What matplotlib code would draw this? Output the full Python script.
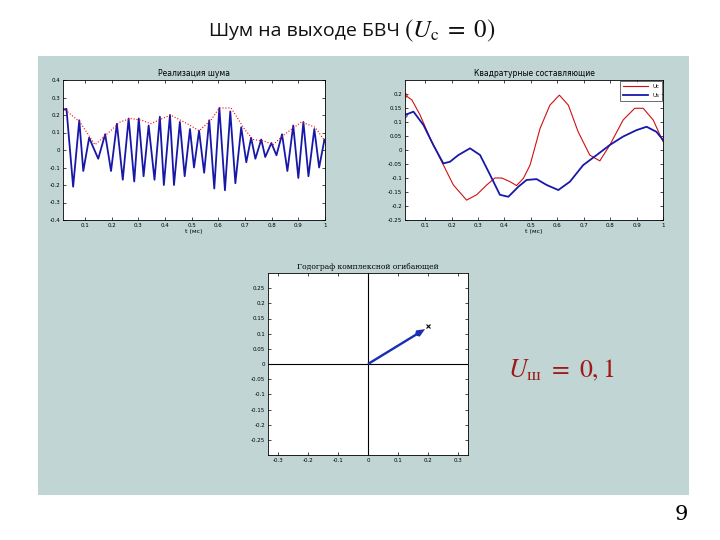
import matplotlib
matplotlib.use("Agg")
import matplotlib.pyplot as plt
from matplotlib.patches import Rectangle

plt.rcParams['mathtext.fontset'] = 'stix'

# ---- data ----
# blue noise realisation (peaks and troughs)
noise_t = [0.018, 0.031, 0.056, 0.079, 0.094, 0.116, 0.150, 0.176, 0.198, 0.220,
           0.242, 0.264, 0.285, 0.302, 0.320, 0.339, 0.361, 0.381, 0.396, 0.419,
           0.434, 0.456, 0.474, 0.494, 0.509, 0.528, 0.547, 0.566, 0.585, 0.604,
           0.625, 0.645, 0.664, 0.686, 0.705, 0.723, 0.739, 0.761, 0.776, 0.799,
           0.818, 0.839, 0.859, 0.881, 0.900, 0.919, 0.938, 0.960, 0.978, 0.998, 1.0]
noise_v = [0.23, 0.235, -0.21, 0.17, -0.12, 0.07, -0.05, 0.09, -0.12, 0.15,
           -0.17, 0.18, -0.18, 0.18, -0.15, 0.14, -0.17, 0.19, -0.20, 0.20,
           -0.20, 0.16, -0.15, 0.12, -0.10, 0.11, -0.13, 0.17, -0.22, 0.24,
           -0.23, 0.22, -0.19, 0.13, -0.07, 0.07, -0.05, 0.06, -0.04, 0.04,
           -0.03, 0.09, -0.12, 0.14, -0.16, 0.16, -0.15, 0.12, -0.10, 0.06, 0.05]

# red envelope
env_t = [0.018, 0.081, 0.138, 0.182, 0.232, 0.270, 0.314, 0.346, 0.421, 0.484, 0.528,
         0.572, 0.604, 0.648, 0.698, 0.730, 0.774, 0.805, 0.849, 0.912, 0.963, 1.0]
env_v = [0.24, 0.16, 0.03, 0.09, 0.16, 0.18, 0.17, 0.15, 0.20, 0.15, 0.11,
         0.17, 0.24, 0.24, 0.12, 0.06, 0.05, 0.03, 0.09, 0.16, 0.13, 0.05]

# quadrature components
uc_t = [0.024, 0.050, 0.081, 0.119, 0.163, 0.207, 0.257, 0.295, 0.333, 0.364, 0.390,
        0.421, 0.446, 0.472, 0.497, 0.535, 0.572, 0.608, 0.642, 0.679, 0.723, 0.761,
        0.799, 0.849, 0.893, 0.925, 0.963, 1.0]
uc_v = [0.196, 0.179, 0.125, 0.042, -0.042, -0.125, -0.179, -0.160, -0.125, -0.100, -0.100,
        -0.113, -0.127, -0.101, -0.054, 0.077, 0.160, 0.196, 0.160, 0.065, -0.018, -0.039,
        0.018, 0.107, 0.149, 0.149, 0.107, 0.030]
us_t = [0.024, 0.056, 0.094, 0.131, 0.169, 0.194, 0.226, 0.270, 0.308, 0.346, 0.383,
        0.415, 0.453, 0.484, 0.522, 0.560, 0.604, 0.648, 0.698, 0.749, 0.799, 0.849,
        0.900, 0.938, 0.975, 1.0]
us_v = [0.125, 0.137, 0.089, 0.018, -0.048, -0.042, -0.018, 0.006, -0.018, -0.089, -0.160,
        -0.167, -0.131, -0.107, -0.104, -0.125, -0.143, -0.113, -0.054, -0.018, 0.018, 0.048,
        0.071, 0.083, 0.065, 0.036]

# hodograph vector
hod_re = [0.19]
hod_im = [0.115]
hod_tip_re = [0.2]
hod_tip_im = [0.125]

t_ticks = [0.1, 0.2, 0.3, 0.4, 0.5, 0.6, 0.7, 0.8, 0.9, 1.0]
left_yticks = [-0.4, -0.3, -0.2, -0.1, 0, 0.1, 0.2, 0.3, 0.4]
right_yticks = [-0.25, -0.2, -0.15, -0.1, -0.05, 0, 0.05, 0.1, 0.15, 0.2]
hod_xticks = [-0.3, -0.2, -0.1, 0, 0.1, 0.2, 0.3]
hod_yticks = [-0.25, -0.2, -0.15, -0.1, -0.05, 0, 0.05, 0.1, 0.15, 0.2, 0.25]

W, H = 720, 540
fig = plt.figure(figsize=(7.2, 5.4), dpi=100)
fig.patch.set_facecolor('white')


def box(x0, y0, x1, y1):
    # pixel box (top-left origin) -> figure coords
    return [x0 / W, 1 - y1 / H, (x1 - x0) / W, (y1 - y0) / H]


# grey-blue panel behind the matlab figure
fig.patches.append(Rectangle((38 / W, 1 - 495 / H), 651 / W, 439 / H,
                             transform=fig.transFigure, facecolor='#c0d5d4',
                             edgecolor='none', zorder=-10))


def style(ax):
    ax.set_facecolor('white')
    ax.set_zorder(2)
    ax.tick_params(direction='in', length=2, width=0.5, labelsize=4,
                   top=True, right=True, pad=2, colors='black')
    for s in ax.spines.values():
        s.set_linewidth(0.6)


# noise realisation
ax1 = fig.add_axes(box(63, 80, 325, 220))
style(ax1)
ax1.plot(noise_t, noise_v, color='#1818a8', lw=1.3)
ax1.plot(env_t, env_v, color='red', lw=0.8, ls=':')
ax1.set_xlim(0.018, 1.0)
ax1.set_ylim(-0.4, 0.4)
ax1.set_xticks(t_ticks)
ax1.set_yticks(left_yticks)
ax1.set_xticklabels([f'{v:g}' for v in t_ticks])
ax1.set_yticklabels([f'{v:g}' for v in left_yticks])
ax1.set_title('Реализация шума', fontsize=5.5, pad=3)
ax1.set_xlabel('t (мс)', fontsize=4.5, labelpad=1)

# quadrature components
ax2 = fig.add_axes(box(405, 80, 663, 220))
style(ax2)
ax2.plot(uc_t, uc_v, color='#d01010', lw=0.8, label='Uc')
ax2.plot(us_t, us_v, color='#1818a8', lw=1.3, label='Us')
ax2.plot(uc_t[:1], uc_v[:1], 'o', mfc='none', mec='#d01010', ms=2.5, mew=0.6)
ax2.plot(us_t[:1], us_v[:1], 'o', mfc='none', mec='#1818a8', ms=2.5, mew=0.6)
ax2.set_xlim(0.024, 1.0)
ax2.set_ylim(-0.25, 0.25)
ax2.set_xticks(t_ticks)
ax2.set_yticks(right_yticks)
ax2.set_xticklabels([f'{v:g}' for v in t_ticks])
ax2.set_yticklabels([f'{v:g}' for v in right_yticks])
ax2.set_title('Квадратурные составляющие', fontsize=5.5, pad=3)
ax2.set_xlabel('t (мс)', fontsize=4.5, labelpad=1)
leg = ax2.legend(loc='upper right', fontsize=4, frameon=True, fancybox=False,
                 handlelength=4.5, borderpad=0.5, labelspacing=0.8,
                 borderaxespad=0.2)
leg.get_frame().set_edgecolor('black')
leg.get_frame().set_linewidth(0.5)

# hodograph
ax3 = fig.add_axes(box(268, 273, 468, 455))
style(ax3)
ax3.axhline(0, color='black', lw=0.8)
ax3.axvline(0, color='black', lw=0.8)
ax3.quiver([0], [0], hod_re, hod_im, angles='xy', scale_units='xy', scale=1,
           color='#1a2fb0', width=0.012, headwidth=3, headlength=3.5, zorder=3)
ax3.plot(hod_tip_re, hod_tip_im, marker='x', color='black', ms=3, mew=0.8)
ax3.set_xlim(-0.333, 0.333)
ax3.set_ylim(-0.3, 0.3)
ax3.set_xticks(hod_xticks)
ax3.set_yticks(hod_yticks)
ax3.set_xticklabels([f'{v:g}' for v in hod_xticks])
ax3.set_yticklabels([f'{v:g}' for v in hod_yticks])
ax3.set_title('Годограф комплексной огибающей', fontsize=5.5, pad=3,
              family='DejaVu Serif')

# slide texts
fig.text(400 / W, 1 - 31 / H, 'Шум на выходе БВЧ', ha='right', va='center',
         fontsize=14, family='Open Sans', color='#111111')
fig.text(404 / W, 1 - 31 / H, r'$(U_{\rm c}\;=\;0)$', ha='left', va='center',
         fontsize=18, color='#111111')
fig.text(508 / W, 1 - 370 / H, r'$U_{\mathrm{ш}}\ =\ 0,1$',
         ha='left', va='center', fontsize=18.5, color='#a01818')
fig.text(688 / W, 1 - 515 / H, '9', ha='right', va='center', fontsize=15,
         family='DejaVu Serif', color='black')

fig.savefig('out.png', dpi=100, facecolor='white')
